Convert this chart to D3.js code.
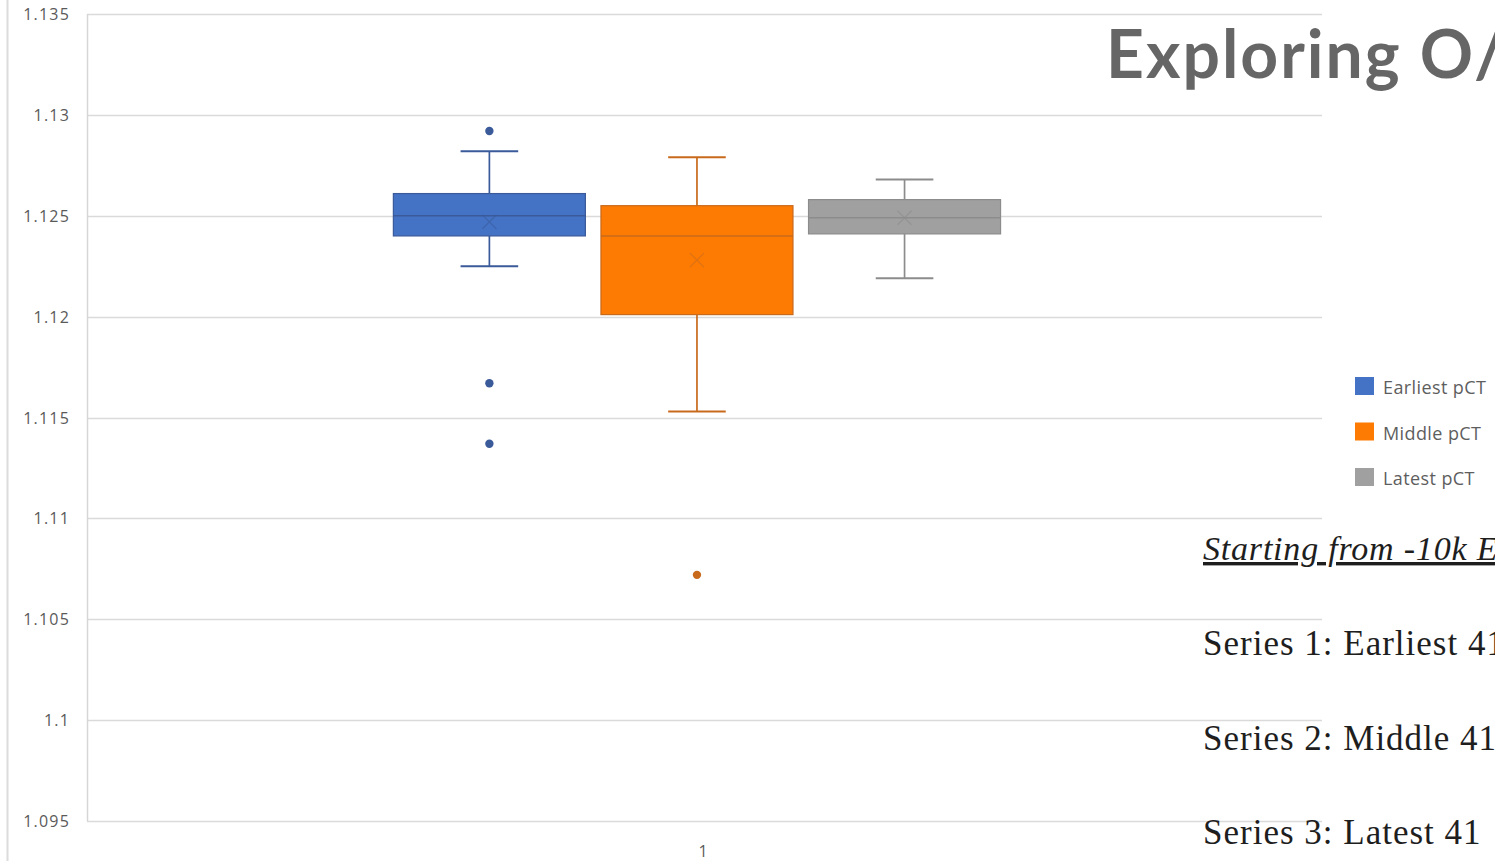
<!DOCTYPE html>
<html>
<head>
<meta charset="utf-8">
<script src="https://cdn.jsdelivr.net/npm/d3@7/dist/d3.min.js"></script>
<style>
  html, body { margin: 0; padding: 0; background: #ffffff; overflow: hidden; }
  svg { display: block; }
</style>
</head>
<body>
<svg id="chart" width="1495" height="861"></svg>
<script>
// ---- data ----
const categories = ["1"];
const seriesNames = ["Earliest pCT", "Middle pCT", "Latest pCT"];
const whiskerHigh = [1.1282, 1.1279, 1.1268];
const q3Values    = [1.1261, 1.1255, 1.1258];
const medians     = [1.1250, 1.1240, 1.1249];
const q1Values    = [1.1240, 1.1201, 1.1241];
const whiskerLow  = [1.1225, 1.1153, 1.1219];
const means       = [1.1247, 1.1228, 1.1249];
const outliers    = [[1.1292, 1.1167, 1.1137], [1.1072], []];
const yTicks = [1.095, 1.1, 1.105, 1.11, 1.115, 1.12, 1.125, 1.13, 1.135];
const titleText = "Exploring O/";
const noteLines = ["Series 1: Earliest 41", "Series 2: Middle 41", "Series 3: Latest 41"];
const noteHeading = "Starting from -10k E";

// ---- styles ----
const fills   = ["#4472c4", "#fd7b03", "#a0a0a0"];
const strokes = ["#3a5a9a", "#c86a1c", "#8c8c8c"];

const svg = d3.select("#chart");
const plot = { left: 87, right: 1322, top: 14, bottom: 821 };

const y = d3.scaleLinear().domain([1.095, 1.135]).range([plot.bottom, plot.top]);
const x = d3.scaleBand().domain(categories).range([plot.left, plot.right])
  .paddingInner(0).paddingOuter(0.517).align(0.488);
const xs = d3.scaleBand().domain(seriesNames).range([0, x.bandwidth()]).paddingInner(0.075);

// outer left border line
svg.append("line").attr("x1", 7.5).attr("x2", 7.5).attr("y1", 0).attr("y2", 861)
  .attr("stroke", "#dcdcdc").attr("stroke-width", 2);

// gridlines
svg.append("g").selectAll("line").data(yTicks).join("line")
  .attr("x1", plot.left).attr("x2", plot.right)
  .attr("y1", d => Math.round(y(d)) + 0.5).attr("y2", d => Math.round(y(d)) + 0.5)
  .attr("stroke", "#dadada").attr("stroke-width", 1.5);

// left plot border
svg.append("line").attr("x1", plot.left + 0.5).attr("x2", plot.left + 0.5)
  .attr("y1", plot.top).attr("y2", plot.bottom)
  .attr("stroke", "#d6d6d6").attr("stroke-width", 1.5);

// y axis
const yAxis = d3.axisLeft(y).tickValues(yTicks).tickSize(0).tickPadding(0)
  .tickFormat(d => d3.format("")(+d.toFixed(3)));
const yg = svg.append("g").attr("transform", `translate(70,0)`).call(yAxis);
yg.select(".domain").remove();
yg.selectAll("text").attr("fill", "#5a5a5a").attr("font-family", "Open Sans, sans-serif")
  .attr("font-size", 16).attr("letter-spacing", 1.2).attr("dy", "0.35em");

// x axis
const xAxis = d3.axisBottom(x).tickSize(0).tickPadding(0);
const xg = svg.append("g").attr("transform", `translate(6,846)`).call(xAxis);
xg.select(".domain").remove();
xg.selectAll("text").attr("fill", "#5a5a5a").attr("font-family", "Open Sans, sans-serif")
  .attr("font-size", 16);

// boxes
const cat = categories[0];
seriesNames.forEach((name, i) => {
  const x0 = x(cat) + xs(name);
  const w = xs.bandwidth();
  const cx = x0 + w / 2;
  const capHalf = w * 0.15;
  const g = svg.append("g");
  // whiskers
  g.append("line").attr("x1", cx).attr("x2", cx).attr("y1", y(whiskerHigh[i])).attr("y2", y(q3Values[i]))
    .attr("stroke", strokes[i]).attr("stroke-width", 1.7);
  g.append("line").attr("x1", cx).attr("x2", cx).attr("y1", y(q1Values[i])).attr("y2", y(whiskerLow[i]))
    .attr("stroke", strokes[i]).attr("stroke-width", 1.7);
  [whiskerHigh[i], whiskerLow[i]].forEach(v => {
    g.append("line").attr("x1", cx - capHalf).attr("x2", cx + capHalf).attr("y1", y(v)).attr("y2", y(v))
      .attr("stroke", strokes[i]).attr("stroke-width", 1.9);
  });
  // box
  g.append("rect").attr("x", x0).attr("y", y(q3Values[i])).attr("width", w)
    .attr("height", y(q1Values[i]) - y(q3Values[i]))
    .attr("fill", fills[i]).attr("stroke", strokes[i]).attr("stroke-width", 1.2);
  // median
  g.append("line").attr("x1", x0).attr("x2", x0 + w).attr("y1", y(medians[i])).attr("y2", y(medians[i]))
    .attr("stroke", strokes[i]).attr("stroke-width", 1.6);
  // mean marker (x)
  const my = y(means[i]), s = 7;
  g.append("path").attr("d", `M${cx - s},${my - s}L${cx + s},${my + s}M${cx - s},${my + s}L${cx + s},${my - s}`)
    .attr("stroke", strokes[i]).attr("stroke-width", 1.2).attr("fill", "none").attr("opacity", 0.6);
  // outliers
  g.selectAll("circle").data(outliers[i]).join("circle")
    .attr("cx", cx).attr("cy", d => y(d)).attr("r", 4.2).attr("fill", strokes[i]);
});

// legend
const lg = svg.append("g").attr("transform", "translate(1355,377)");
seriesNames.forEach((name, i) => {
  lg.append("rect").attr("x", 0).attr("y", i * 45.5).attr("width", 19).attr("height", 18).attr("fill", fills[i]);
  lg.append("text").attr("x", 28).attr("y", i * 45.5 + 17).text(name)
    .attr("font-family", "Open Sans, sans-serif").attr("font-size", 18).attr("letter-spacing", 0.4)
    .attr("fill", "#5e5e5e");
});

// title (overlay from slide)
svg.append("text").attr("x", 1106).attr("y", 78).text(titleText)
  .attr("font-family", "Lato, sans-serif").attr("font-weight", 700).attr("font-size", 66)
  .attr("letter-spacing", 2).attr("fill", "#666666");

// notes
svg.append("text").attr("x", 1203).attr("y", 560).text(noteHeading)
  .attr("font-family", "Liberation Serif, serif").attr("font-style", "italic").attr("font-size", 34)
  .attr("letter-spacing", 0.8).attr("text-decoration", "underline").attr("fill", "#1e1e1e");
noteLines.forEach((t, i) => {
  svg.append("text").attr("x", 1203).attr("y", 655 + i * 94.5).text(t)
    .attr("font-family", "Liberation Serif, serif").attr("font-size", 35)
    .attr("letter-spacing", 1).attr("fill", "#1e1e1e");
});
</script>
</body>
</html>
